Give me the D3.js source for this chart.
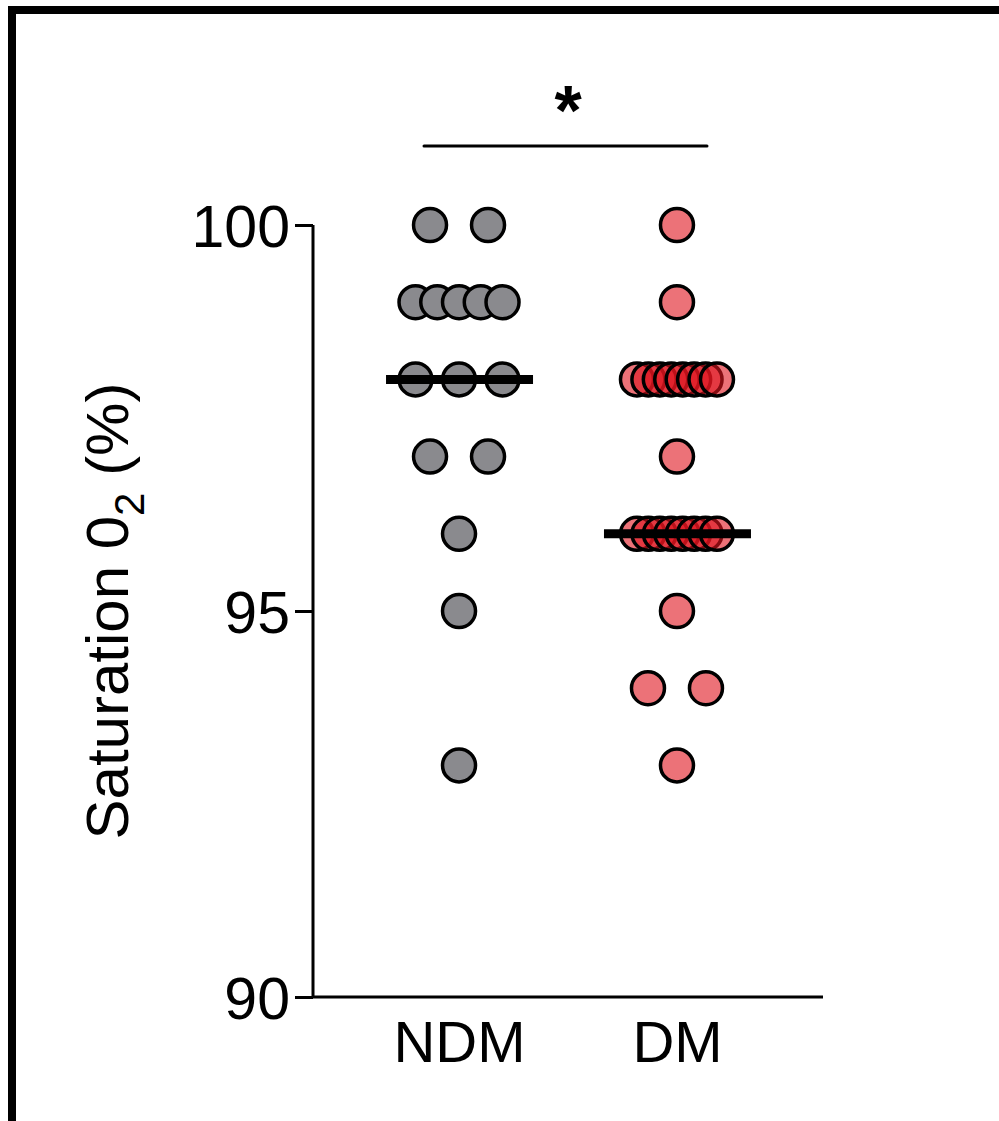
<!DOCTYPE html>
<html>
<head>
<meta charset="utf-8">
<script src="https://cdn.jsdelivr.net/npm/d3@7"></script>
<style>
  html, body { margin: 0; padding: 0; background: #fff; }
  svg { display: block; }
  text { font-family: "Liberation Sans", Arial, Helvetica, sans-serif; fill: #000; }
</style>
</head>
<body>
<svg id="chart" width="999" height="1121"></svg>
<script>
// ---- data ----
const groups = ["NDM", "DM"];
const ndmValues = [100, 100, 99, 99, 99, 99, 99, 98, 98, 98, 97, 97, 96, 95, 93];
const dmValues  = [100, 99, 98, 98, 98, 98, 98, 98, 98, 98, 97, 96, 96, 96, 96, 96, 96, 96, 96, 95, 94, 94, 93];
const medians   = [98, 96];
const yTicks    = [90, 95, 100];
const yLabel    = "Saturation 0";
const yLabelSub = "2";
const yLabelEnd = " (%)";
const sigLabel  = "*";

const svg = d3.select("#chart");

// frame (cropped border)
svg.append("rect")
  .attr("x", 12).attr("y", 10).attr("width", 1100).attr("height", 1300)
  .attr("fill", "none").attr("stroke", "#000").attr("stroke-width", 8);

const x0 = 313, x1 = 823, yTop = 225, yBot = 997;

const x = d3.scalePoint().domain(groups).range([x0, x1]).padding(0.67);
const y = d3.scaleLinear().domain([90, 100]).range([yBot, yTop]);

// y axis
const yAxis = d3.axisLeft(y).tickValues(yTicks).tickSize(18).tickPadding(5).tickFormat(d3.format("d"));
const gy = svg.append("g").attr("transform", `translate(${x0},0)`).call(yAxis);
gy.select(".domain").attr("d", `M0,${yTop}V${yBot}`).attr("stroke-width", 3).attr("stroke", "#000");
gy.selectAll(".tick line").attr("stroke-width", 3).attr("stroke", "#000");
gy.selectAll(".tick text").attr("font-size", 59).attr("dy", "0.36em")
  .style("font-family", '"Liberation Sans", Arial, sans-serif').attr("fill", "#000");

// x axis
const xAxis = d3.axisBottom(x).tickSize(0).tickPadding(24);
const gx = svg.append("g").attr("transform", `translate(0,${yBot})`).call(xAxis);
gx.select(".domain").attr("d", `M${x0},0H${x1}`).attr("stroke-width", 3).attr("stroke", "#000");
gx.selectAll(".tick text").attr("font-size", 58).attr("dy", "0.71em")
  .style("font-family", '"Liberation Sans", Arial, sans-serif').attr("fill", "#000");

// swarm offsets: spread equal values horizontally
function swarm(values, group) {
  const counts = d3.rollup(values, v => v.length, d => d);
  const seen = new Map();
  return values.map(v => {
    const n = counts.get(v);
    const i = seen.get(v) || 0;
    seen.set(v, i + 1);
    let span = 0;
    if (n > 1) span = Math.min(58 * (n - 1), n > 5 ? 80 : 87);
    const step = n > 1 ? span / (n - 1) : 0;
    return { value: v, group, dx: (i - (n - 1) / 2) * step };
  });
}

const r = 16.5;
// NDM (opaque grey)
svg.append("g").selectAll("circle").data(swarm(ndmValues, "NDM")).join("circle")
  .attr("cx", d => x(d.group) + d.dx)
  .attr("cy", d => y(d.value))
  .attr("r", r)
  .attr("fill", "#8a8a8e")
  .attr("stroke", "#000").attr("stroke-width", 3.5);

// DM (translucent red)
svg.append("g").selectAll("circle").data(swarm(dmValues, "DM")).join("circle")
  .attr("cx", d => x(d.group) + d.dx)
  .attr("cy", d => y(d.value))
  .attr("r", r)
  .attr("fill", "rgba(224,20,30,0.6)")
  .attr("stroke", "#000").attr("stroke-width", 3.5);

// medians
svg.append("g").selectAll("line").data(groups).join("line")
  .attr("x1", (d) => x(d) - 73)
  .attr("x2", (d) => x(d) + 74)
  .attr("y1", (d, i) => y(medians[i]))
  .attr("y2", (d, i) => y(medians[i]))
  .attr("stroke", "#000").attr("stroke-width", 9);

// y title
const title = svg.append("text")
  .attr("transform", `translate(128,${(yTop + yBot) / 2}) rotate(-90)`)
  .attr("text-anchor", "middle")
  .attr("font-size", 60);
title.append("tspan").text(yLabel);
title.append("tspan").attr("font-size", 42).attr("dy", 16).text(yLabelSub);
title.append("tspan").attr("dy", -16).text(yLabelEnd);

// significance bar
svg.append("line")
  .attr("x1", x("NDM") - 35).attr("x2", x("DM") + 30)
  .attr("y1", 146).attr("y2", 146)
  .attr("stroke", "#000").attr("stroke-width", 3).attr("stroke-linecap", "round");
svg.append("text")
  .attr("x", (x("NDM") + x("DM")) / 2).attr("y", 135)
  .attr("text-anchor", "middle").attr("font-size", 70).attr("font-weight", "bold")
  .text(sigLabel);
</script>
</body>
</html>
